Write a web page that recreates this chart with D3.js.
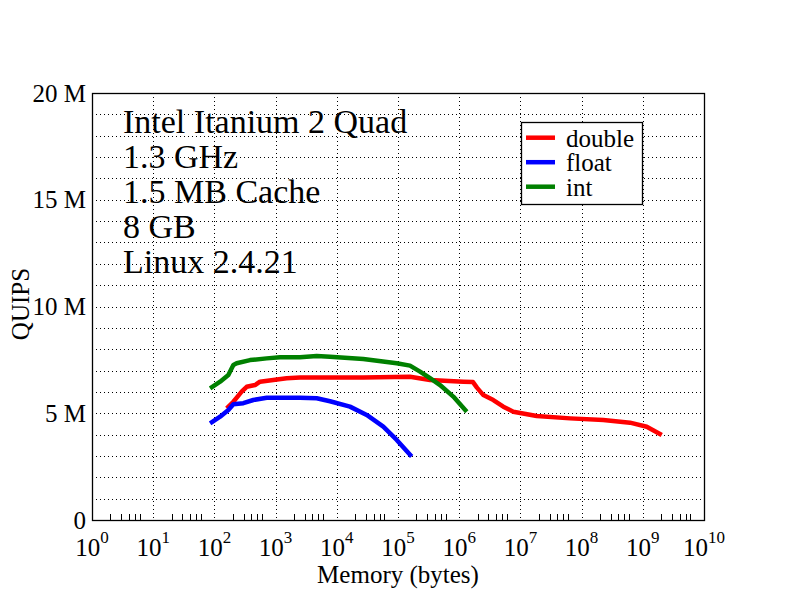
<!DOCTYPE html>
<html>
<head>
<meta charset="utf-8">
<script src="https://cdn.jsdelivr.net/npm/d3@7"></script>
<style>
  html, body { margin: 0; padding: 0; background: #fff; }
  svg { display: block; }
  text { font-family: "Liberation Serif", "Times New Roman", serif; fill: #000; }
</style>
</head>
<body>
<svg id="chart" width="792" height="612"></svg>
<script>
// ---- data ----
const xTickExponents = [0, 1, 2, 3, 4, 5, 6, 7, 8, 9, 10];
const yTickValues = [0, 5, 10, 15, 20];
const yTickLabels = ["0", "5 M", "10 M", "15 M", "20 M"];
const infoLines = ["Intel Itanium 2 Quad", "1.3 GHz", "1.5 MB Cache", "8 GB", "Linux 2.4.21"];
const seriesNames = ["double", "float", "int"];
const seriesColors = ["#ff0000", "#0000ff", "#008000"];

// memory in bytes, QUIPS in millions
const doubleBytes = [159, 204, 279, 337, 461, 556, 917, 1516, 2500, 7740, 27100, 157000, 334000, 1170000, 1680000, 1950000, 2480000, 3610000, 5260000, 7660000, 18500000, 64600000, 226000000, 618000000, 1160000000, 2040000000];
const doubleQuips = [5.23, 5.54, 6.01, 6.24, 6.32, 6.48, 6.56, 6.64, 6.67, 6.67, 6.68, 6.71, 6.56, 6.48, 6.46, 6.2, 5.85, 5.62, 5.31, 5.07, 4.87, 4.76, 4.68, 4.56, 4.37, 3.98];

const floatBytes = [85, 124, 169, 204, 297, 432, 716, 2500, 4700, 7740, 16400, 30800, 57500, 95300, 167000];
const floatQuips = [4.53, 4.84, 5.15, 5.42, 5.47, 5.62, 5.73, 5.73, 5.70, 5.56, 5.31, 4.92, 4.37, 3.75, 2.97];

const intBytes = [85, 124, 169, 204, 231, 382, 716, 1180, 2500, 4700, 7740, 27100, 95300, 157000, 229000, 334000, 486000, 801000, 1330000];
const intQuips = [6.17, 6.48, 6.79, 7.26, 7.34, 7.49, 7.57, 7.62, 7.62, 7.68, 7.65, 7.54, 7.34, 7.23, 6.95, 6.64, 6.32, 5.78, 5.07];

const seriesBytes = [doubleBytes, floatBytes, intBytes];
const seriesQuips = [doubleQuips, floatQuips, intQuips];

// ---- layout ----
const L = 92, R = 704, T = 93, B = 520;
const svg = d3.select("#chart");
const x = d3.scaleLog().domain([1, 1e10]).range([L, R]);
const y = d3.scaleLinear().domain([0, 20]).range([B, T]);

// horizontal grid (every 1 M)
const yGrid = d3.range(1, 20);
svg.append("g").selectAll("line").data(yGrid).join("line")
  .attr("x1", L).attr("x2", R)
  .attr("y1", d => Math.round(y(d)) + 0.5).attr("y2", d => Math.round(y(d)) + 0.5)
  .attr("stroke", "#000").attr("stroke-width", 1).attr("stroke-dasharray", "1 3");

// vertical grid at decades
svg.append("g").selectAll("line").data(xTickExponents.slice(1, -1)).join("line")
  .attr("x1", d => Math.round(x(Math.pow(10, d))) + 0.5).attr("x2", d => Math.round(x(Math.pow(10, d))) + 0.5)
  .attr("y1", T).attr("y2", B)
  .attr("stroke", "#000").attr("stroke-width", 1).attr("stroke-dasharray", "1 3");

// minor ticks on bottom axis
const minor = [];
xTickExponents.slice(0, -1).forEach(e => { [2, 3, 4, 5, 6].forEach(m => minor.push(m * Math.pow(10, e))); });
svg.append("g").selectAll("line").data(minor).join("line")
  .attr("x1", d => Math.round(x(d)) + 0.5).attr("x2", d => Math.round(x(d)) + 0.5)
  .attr("y1", B - 6).attr("y2", B)
  .attr("stroke", "#000").attr("stroke-width", 1);

// frame
svg.append("rect").attr("x", L + 0.5).attr("y", T + 0.5).attr("width", R - L).attr("height", B - T)
  .attr("fill", "none").attr("stroke", "#000").attr("stroke-width", 1.3);

// y tick labels
svg.append("g").selectAll("text").data(yTickValues).join("text")
  .attr("x", L - 6).attr("y", d => y(d) + 8.5)
  .attr("text-anchor", "end").attr("font-size", 25)
  .text((d, i) => yTickLabels[i]);

// x tick labels 10^n
const xl = svg.append("g").selectAll("text").data(xTickExponents).join("text")
  .attr("x", d => x(Math.pow(10, d)))
  .attr("y", 556)
  .attr("text-anchor", "middle").attr("font-size", 25);
xl.append("tspan").text("10");
xl.append("tspan").attr("dy", -13).attr("font-size", 17).text(d => d);

// axis titles
svg.append("text").attr("x", 398).attr("y", 583).attr("text-anchor", "middle")
  .attr("font-size", 25).text("Memory (bytes)");
svg.append("text").attr("transform", "translate(28.5,304) rotate(-90)")
  .attr("text-anchor", "middle").attr("font-size", 25).text("QUIPS");

// info text
svg.append("g").selectAll("text").data(infoLines).join("text")
  .attr("x", 123).attr("y", (d, i) => 133.3 + i * 35)
  .attr("font-size", 34).text(d => d);

// series lines
const line = d3.line().x(d => x(d[0])).y(d => y(d[1]));
seriesNames.forEach((name, i) => {
  const pts = seriesBytes[i].map((b, j) => [b, seriesQuips[i][j]]);
  svg.append("path").datum(pts)
    .attr("d", line)
    .attr("fill", "none")
    .attr("stroke", seriesColors[i])
    .attr("stroke-width", 4.5)
    .attr("stroke-linejoin", "round");
});

// legend
const lg = svg.append("g");
lg.append("rect").attr("x", 521.5).attr("y", 122.5).attr("width", 121).attr("height", 82)
  .attr("fill", "#fff").attr("stroke", "#000").attr("stroke-width", 1.3);
seriesNames.forEach((name, i) => {
  const ly = 137.7 + i * 24.5;
  lg.append("line").attr("x1", 526).attr("x2", 555).attr("y1", ly).attr("y2", ly)
    .attr("stroke", seriesColors[i]).attr("stroke-width", 4.5);
  lg.append("text").attr("x", 566).attr("y", ly + 9).attr("font-size", 25).text(name);
});
</script>
</body>
</html>
